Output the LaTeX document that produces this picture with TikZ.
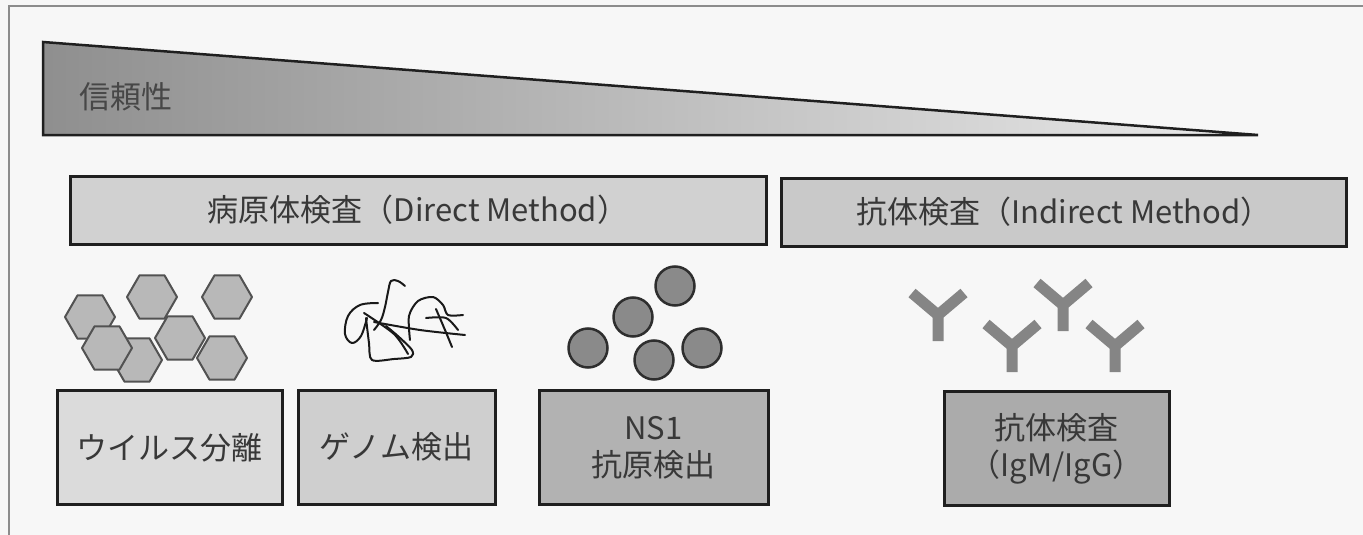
\documentclass[tikz,border=0pt]{standalone}
\usepackage{fontspec}
\setmainfont{Noto Sans CJK JP}

\tikzset{
  method/.style={draw=black!88, fill=#1, line width=3pt, minimum height=68pt, inner sep=0pt, text=black!78},
  test/.style={draw=black!88, fill=#1, line width=3pt, minimum height=114pt, align=center, inner sep=0pt, text=black!78},
  capsid/.style={fill=black!28, draw=black!68, line width=2pt, line join=round},
  antigen/.style={fill=black!46, draw=black!82, line width=2.5pt},
  antibody/.style={draw=black!48, line width=11pt},
  genome/.style={draw=black!90, line width=2pt, line cap=round, line join=round},
}
% one hexagonal virion, corners left and right
\newcommand{\virion}[2]{\filldraw[capsid] (#1+25,#2) -- ++(120:25) -- ++(180:25) -- ++(240:25) -- ++(300:25) -- ++(0:25) -- cycle;}
% one Y shaped antibody, given the fork point
\newcommand{\antibodyY}[2]{\draw[antibody] (#1-26,#2-22) -- (#1,#2) -- (#1+26,#2-22) (#1,#2) -- (#1,#2+26);}

\begin{document}
\begin{tikzpicture}[x=1pt, y=-1pt, every node/.style={font=\fontsize{31}{37}\selectfont}]
    \useasboundingbox (0,0) rectangle (1363,535);
    \fill[black!3] (0,0) rectangle (1363,535);
    \draw[black!45, line width=2pt] (1363,6) -- (9,6) -- (9,535);

    % reliability wedge
    \shade[left color=black!44, right color=black!8] (43,42) -- (43,135) -- (1258,135) -- cycle;
    \draw[black!88, line width=2.5pt, line join=miter] (43,42) -- (43,135) -- (1258,135) -- cycle;
    \node[text=black!72] (reliability) at (126,97) {信頼性};

    % the two families of tests
    \node[method=black!18, minimum width=696pt] (direct) at (418,210) {病原体検査（Direct Method）};
    \node[method=black!21, minimum width=565pt] (indirect) at (1064,212) {抗体検査（Indirect Method）};

    % virus particles
    \virion{90}{317}
    \virion{152}{297}
    \virion{227}{297}
    \virion{137}{360}
    \virion{107}{348}
    \virion{180}{338}
    \virion{222}{358}

    % viral genome
    \draw[genome] plot[smooth, tension=0.6] coordinates {(405,286) (398,281) (391,281) (388,292) (385,307) (381,320) (374,330)};
    \draw[genome] plot[smooth, tension=0.6] coordinates {(378,303) (360,305) (348,316) (345,334) (352,343) (361,336) (367,318)};
    \draw[genome] plot[smooth, tension=0.5] coordinates {(366,318) (369,343) (372,360) (394,359) (411,357) (412,350) (399,337) (386,326)};
    \draw[genome] plot[smooth, tension=0.5] coordinates {(410,340) (409,316) (418,301) (433,297) (443,305) (448,315) (463,315)};
    \draw[genome] plot[smooth, tension=0.5] coordinates {(374,322) (420,330) (465,335)};
    \draw[genome] plot[smooth, tension=0.5] coordinates {(364,313) (394,334) (408,354)};
    \draw[genome] plot[smooth, tension=0.5] coordinates {(436,309) (445,330) (452,347)};
    \draw[genome] plot[smooth, tension=0.5] coordinates {(426,318) (446,318) (458,330)};

    % NS1 antigen
    \foreach \cx/\cy in {588/348, 633/317, 675/286, 654/360, 702/348}
        \filldraw[antigen] (\cx,\cy) circle (19.5);

    % IgM / IgG
    \antibodyY{938}{315}
    \antibodyY{1012}{346}
    \antibodyY{1063}{305}
    \antibodyY{1115}{346}

    % individual tests
    \node[test=black!14, minimum width=225pt] (isolation) at (169.5,447.5) {ウイルス分離};
    \node[test=black!19, minimum width=197pt] (pcr) at (396.5,447) {ゲノム検出};
    \node[test=black!30, minimum width=229pt] (ns1) at (653.5,447.5) {NS1\\抗原検出};
    \node[test=black!33, minimum width=225pt] (serology) at (1056.5,448.5) {抗体検査\\（IgM/IgG）};
\end{tikzpicture}
\end{document}
